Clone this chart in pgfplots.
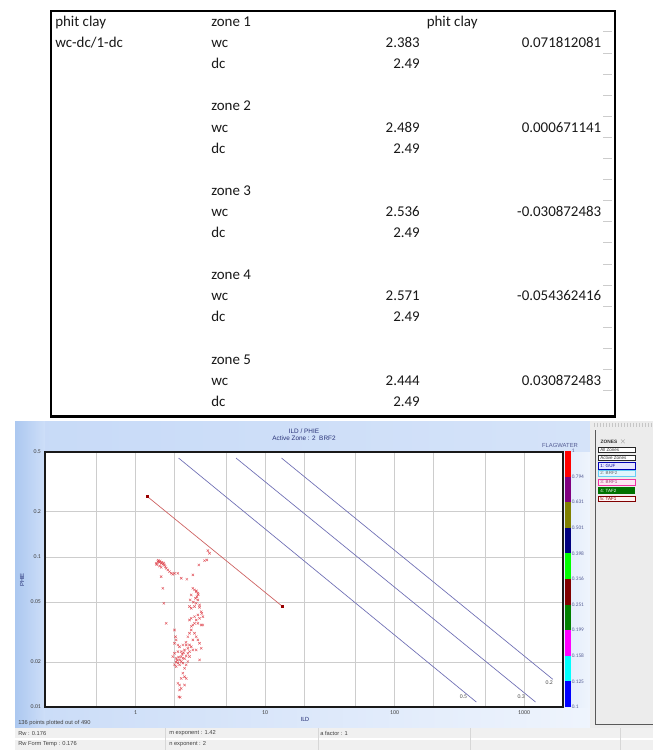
\documentclass[border=0pt]{standalone}
\usepackage{pgfplots}
\pgfplotsset{compat=1.18}
\usepackage{fontspec}
\setmainfont{Carlito}
\newfontfamily\uifont{Liberation Sans}
\definecolor{pb}{RGB}{190,212,246}
\definecolor{pb2}{RGB}{172,200,240}
\definecolor{titleblue}{RGB}{40,50,120}
\definecolor{gridc}{RGB}{205,205,205}
\definecolor{ptred}{RGB}{220,50,60}
\definecolor{swred}{RGB}{205,95,95}
\definecolor{swblue}{RGB}{110,110,180}
\definecolor{zonegray}{RGB}{236,236,236}
\definecolor{statgray}{RGB}{240,240,240}
\definecolor{sepgray}{RGB}{215,215,215}
\definecolor{cb0}{RGB}{255,0,0}
\definecolor{cb1}{RGB}{128,0,128}
\definecolor{cb2}{RGB}{128,128,0}
\definecolor{cb3}{RGB}{0,0,128}
\definecolor{cb4}{RGB}{0,255,0}
\definecolor{cb5}{RGB}{128,0,0}
\definecolor{cb6}{RGB}{0,128,0}
\definecolor{cb7}{RGB}{255,0,255}
\definecolor{cb8}{RGB}{0,255,255}
\definecolor{cb9}{RGB}{0,0,255}
\begin{document}
\begin{tikzpicture}
\useasboundingbox (0,0) rectangle (489.75pt,-564.75pt);
\begin{scope}[x=0.75pt,y=-0.75pt]
\fill[white] (0,0) rectangle (653,753);
% ---------- spreadsheet table ----------
\foreach \j in {0,...,17} {\draw[gray!40, line width=0.4pt] (603,31.7+21.1*\j) -- (612,31.7+21.1*\j);}
\draw[line width=1.6pt] (51,11) rectangle (615,416.5);
\begin{scope}[every node/.style={inner sep=0pt, font=\fontsize{11.2}{13}\selectfont, text=black!90}]
\node[anchor=base west] at (55,26.5) {phit clay};
\node[anchor=base west] at (55,47.6) {wc-dc/1-dc};
\node[anchor=base west] at (426.5,26.5) {phit clay};
\node[anchor=base west] at (211,26.5) {zone 1};
\node[anchor=base west] at (211,47.6) {wc};
\node[anchor=base west] at (211,68.7) {dc};
\node[anchor=base east] at (420,47.6) {2.383};
\node[anchor=base east] at (420,68.7) {2.49};
\node[anchor=base east] at (601.5,47.6) {0.071812081};
\node[anchor=base west] at (211,110.9) {zone 2};
\node[anchor=base west] at (211,132.0) {wc};
\node[anchor=base west] at (211,153.1) {dc};
\node[anchor=base east] at (420,132.0) {2.489};
\node[anchor=base east] at (420,153.1) {2.49};
\node[anchor=base east] at (601.5,132.0) {0.000671141};
\node[anchor=base west] at (211,195.3) {zone 3};
\node[anchor=base west] at (211,216.4) {wc};
\node[anchor=base west] at (211,237.5) {dc};
\node[anchor=base east] at (420,216.4) {2.536};
\node[anchor=base east] at (420,237.5) {2.49};
\node[anchor=base east] at (601.5,216.4) {-0.030872483};
\node[anchor=base west] at (211,279.7) {zone 4};
\node[anchor=base west] at (211,300.8) {wc};
\node[anchor=base west] at (211,321.9) {dc};
\node[anchor=base east] at (420,300.8) {2.571};
\node[anchor=base east] at (420,321.9) {2.49};
\node[anchor=base east] at (601.5,300.8) {-0.054362416};
\node[anchor=base west] at (211,364.1) {zone 5};
\node[anchor=base west] at (211,385.2) {wc};
\node[anchor=base west] at (211,406.3) {dc};
\node[anchor=base east] at (420,385.2) {2.444};
\node[anchor=base east] at (420,406.3) {2.49};
\node[anchor=base east] at (601.5,385.2) {0.030872483};
\end{scope}
% ---------- plot window background (blue gradient margins) ----------
\shade[left color=pb2, right color=pb!75!white] (15,421) rectangle (45.5,728);
\shade[left color=pb!85!white, middle color=pb!40!white, right color=pb!65!white] (45,421) rectangle (590,452.5);
\shade[left color=pb!80!white, middle color=pb!55!white, right color=pb!25!white] (45,706.5) rectangle (590,728);
\shade[left color=pb!45!white, right color=pb!25!white] (562.5,452) rectangle (590,707);
\fill[zonegray] (590,421) rectangle (653,728);
\fill[gray!15] (592,421) rectangle (653,428);
\foreach \k in {0,...,19} {\draw[gray!45, line width=0.2pt] (594+3*\k,422.5) -- (594+3*\k,426.5);}
\draw[gray!70!black, line width=0.6pt] (595,430) -- (595,724) -- (653,724);
% status bar
\fill[statgray] (15,728) rectangle (653,750);
\draw[white, line width=0.8pt] (15,739) -- (653,739);
\foreach \xx in {165,318,470,620} {\draw[sepgray, line width=0.4pt] (\xx,728) -- (\xx,750);}
\begin{scope}[every node/.style={inner sep=0pt, anchor=west, font=\uifont\fontsize{4.3}{5}\selectfont, text=black!75}]
\node at (18,733.5) {Rw : 0.176};
\node at (169,733.5) {m exponent : 1.42};
\node at (320,733.5) {a factor : 1};
\node at (18,744.5) {Rw Form Temp : 0.176};
\node at (169,744.5) {n exponent : 2};
\node at (18,723.5) {136 points plotted out of 490};
\end{scope}
% zones panel
\node[inner sep=0pt, font=\uifont\bfseries\fontsize{3.6}{4}\selectfont, text=black!80] at (609,442) {ZONES};
\node[inner sep=0pt, font=\uifont\fontsize{3.6}{4}\selectfont, text=black!50] at (623,442) {$\times$};
\begin{scope}[every node/.style={inner sep=0pt, anchor=west, font=\uifont\fontsize{3.4}{4}\selectfont}]
\draw[black!85, line width=0.7pt, fill=white] (598,447) rectangle (635,452.7); \node[text=black!80] at (600,449.9) {All Zones};
\draw[black!85, line width=0.7pt, fill=white] (598,455) rectangle (635,460); \node[text=black!80] at (600,457.5) {Active Zones};
\draw[blue!70!black, line width=0.7pt, fill=blue!10] (598,462.8) rectangle (635,469); \node[text=blue!60!black] at (600,465.9) {1: GUF};
\draw[cyan!60, line width=0.7pt, fill=cyan!12] (598,470.8) rectangle (635,476); \node[text=black!60] at (600,473.4) {2: BRF2};
\draw[magenta!80, line width=0.7pt, fill=magenta!10] (598,479.3) rectangle (635,485.2); \node[text=magenta!60!black] at (600,482.2) {3: BRF1};
\fill[green!45!black] (598,487.3) rectangle (635,494); \node[text=white] at (600,490.6) {4: TAF2};
\draw[red!50!black, line width=0.7pt, fill=red!5] (598,496) rectangle (635,501.6); \node[text=red!50!black] at (600,498.8) {5: TAF1};
\end{scope}
\end{scope}
% ---------- Pickett plot ----------
\begin{axis}[
  at={(33.75pt,-530.25pt)}, anchor=south west,
  width=388.5pt, height=191.25pt, scale only axis,
  xmode=log, ymode=log,
  xmin=0.2, xmax=2000, ymin=0.01, ymax=0.5,
  xtick={0.5,1,2,5,10,20,50,100,200,500,1000},
  xticklabels={,1,,,10,,,100,,,1000},
  ytick={0.01,0.02,0.05,0.1,0.2,0.5},
  yticklabels={0.01,0.02,0.05,0.1,0.2,0.5},
  minor tick num=0,
  major tick length=0pt,
  grid=major,
  major grid style={draw=gridc, line width=0.5pt},
  axis line style={line width=1.1pt, black!90},
  tick label style={font=\fontsize{4.4}{5}\selectfont, text=black!75},
  xticklabel style={yshift=0.5pt},
  yticklabel style={xshift=0.5pt},
  axis background/.style={fill=white},
]
% iso-Sw lines (Archie, a=1, m=1.42, n=2, Rw=0.176)
\addplot[swblue, line width=0.5pt] coordinates {(2.15,0.456) (428,0.0108)};
\addplot[swblue, line width=0.5pt] coordinates {(5.97,0.456) (1227,0.0108)};
\addplot[swblue, line width=0.5pt] coordinates {(13.4,0.456) (1668,0.0153)};
\addplot[swred, line width=0.5pt, mark=square*, mark size=0.7pt, mark options={fill=red!60!black, draw=red!60!black}] coordinates {(1.238,0.252) (13.5,0.0471)};
\node[font=\fontsize{4.3}{5}\selectfont, text=black!70] at (axis cs:341,0.0117) {0.5};
\node[font=\fontsize{4.3}{5}\selectfont, text=black!70] at (axis cs:951,0.0117) {0.3};
\node[font=\fontsize{4.3}{5}\selectfont, text=black!70] at (axis cs:1566,0.01452) {0.2};
% data points
\addplot[only marks, mark=x, mark size=1.25pt, ptred, line width=0.35pt, opacity=0.8] coordinates {
(3.620,0.1102) (3.729,0.1058) (3.555,0.0955) (3.410,0.0945) (3.084,0.0884) (2.772,0.0759)
(1.488,0.0931) (1.532,0.0921) (1.578,0.0907) (1.626,0.0893) (1.675,0.0884) (1.444,0.0907)
(1.532,0.0871) (1.578,0.0853) (1.725,0.0840) (1.777,0.0819) (1.830,0.0798) (1.886,0.0778)
(1.942,0.0766) (2.001,0.0778) (2.123,0.0778) (2.252,0.0721) (2.491,0.0710) (1.578,0.0739)
(1.626,0.0618) (1.655,0.0491) (1.725,0.0361)
(1.50,0.095) (1.55,0.094) (1.60,0.092) (1.65,0.091) (1.70,0.086) (1.46,0.089)
(2.772,0.0618) (2.855,0.0603) (2.941,0.0587) (3.029,0.0573) (2.976,0.0544) (2.906,0.0530)
(2.691,0.0558) (2.643,0.0517) (3.029,0.0517) (2.941,0.0491) (3.121,0.0479) (2.612,0.0467)
(2.691,0.0455) (2.855,0.0467) (3.121,0.0462) (3.215,0.0432) (3.029,0.0411) (3.311,0.0400)
(2.855,0.0400) (2.691,0.0390) (2.612,0.0380) (2.941,0.0380) (3.121,0.0390) (2.855,0.0361)
(2.772,0.0352) (3.029,0.0361) (3.215,0.0352) (3.311,0.0352) (2.691,0.0326) (2.612,0.0310)
(2.855,0.0310) (2.941,0.0294) (2.772,0.0280) (3.029,0.0280) (2.536,0.0294)
(2.001,0.0326) (2.036,0.0294) (2.061,0.0280) (2.001,0.0266) (2.123,0.0259) (2.187,0.0252)
(2.320,0.0259) (2.462,0.0259) (2.612,0.0259) (2.691,0.0252) (2.536,0.0246) (2.390,0.0240)
(2.252,0.0234) (2.123,0.0234) (2.001,0.0228) (1.942,0.0217) (2.061,0.0211) (2.252,0.0217)
(2.320,0.0211) (2.462,0.0219) (2.536,0.0228) (2.612,0.0234) (2.772,0.0240) (2.941,0.0240)
(3.121,0.0266) (3.215,0.0246) (3.121,0.0206) (2.187,0.0206) (2.252,0.0201) (2.123,0.0196)
(2.001,0.0191) (2.061,0.0186) (2.187,0.0191) (2.320,0.0196) (2.462,0.0191) (2.390,0.0181)
(2.536,0.0201) (2.612,0.0217) (2.320,0.0168) (2.390,0.0159) (2.252,0.0155) (2.462,0.0155)
(2.123,0.0144) (2.187,0.0140) (2.390,0.0140) (2.252,0.0133) (2.187,0.0130) (2.161,0.0117)
(2.213,0.0116)
(2.95,0.0595) (3.05,0.0560) (2.80,0.0500) (3.25,0.0420) (2.70,0.0345) (2.45,0.0270)
(2.30,0.0225) (2.40,0.0210) (2.10,0.0205) (2.05,0.0200) (2.35,0.0230) (2.15,0.0215)
};
\end{axis}
% ---------- overlays: titles, labels, colour bar ----------
\begin{scope}[x=0.75pt,y=-0.75pt]
\node[inner sep=0pt, font=\uifont\fontsize{4.8}{5.5}\selectfont, text=titleblue] at (304,431.5) {ILD / PHIE};
\node[inner sep=0pt, font=\uifont\fontsize{4.8}{5.5}\selectfont, text=titleblue] at (304,438.5) {Active Zone : 2 \ BRF2};
\node[inner sep=0pt, font=\fontsize{4.8}{5.5}\selectfont, text=titleblue] at (305,719) {ILD};
\node[inner sep=0pt, rotate=90, font=\uifont\fontsize{4.4}{5}\selectfont, text=titleblue] at (22,580) {PHIE};
\node[inner sep=0pt, font=\uifont\fontsize{4.4}{5}\selectfont, text=titleblue!80] at (560,445) {FLAGWATER};
\foreach \i in {0,...,9} {
  \fill[cb\i] (565,451+25.6*\i) rectangle (571,451+25.6*\i+25.6);
}
\foreach \lab [count=\i from 0] in {1,0.794,0.631,0.501,0.398,0.316,0.251,0.199,0.158,0.125,0.1} {
  \node[inner sep=0pt, anchor=west, font=\fontsize{4}{5}\selectfont, text=titleblue!80] at (571.5,451+25.6*\i) {\lab};
}
\end{scope}
\end{tikzpicture}
\end{document}
